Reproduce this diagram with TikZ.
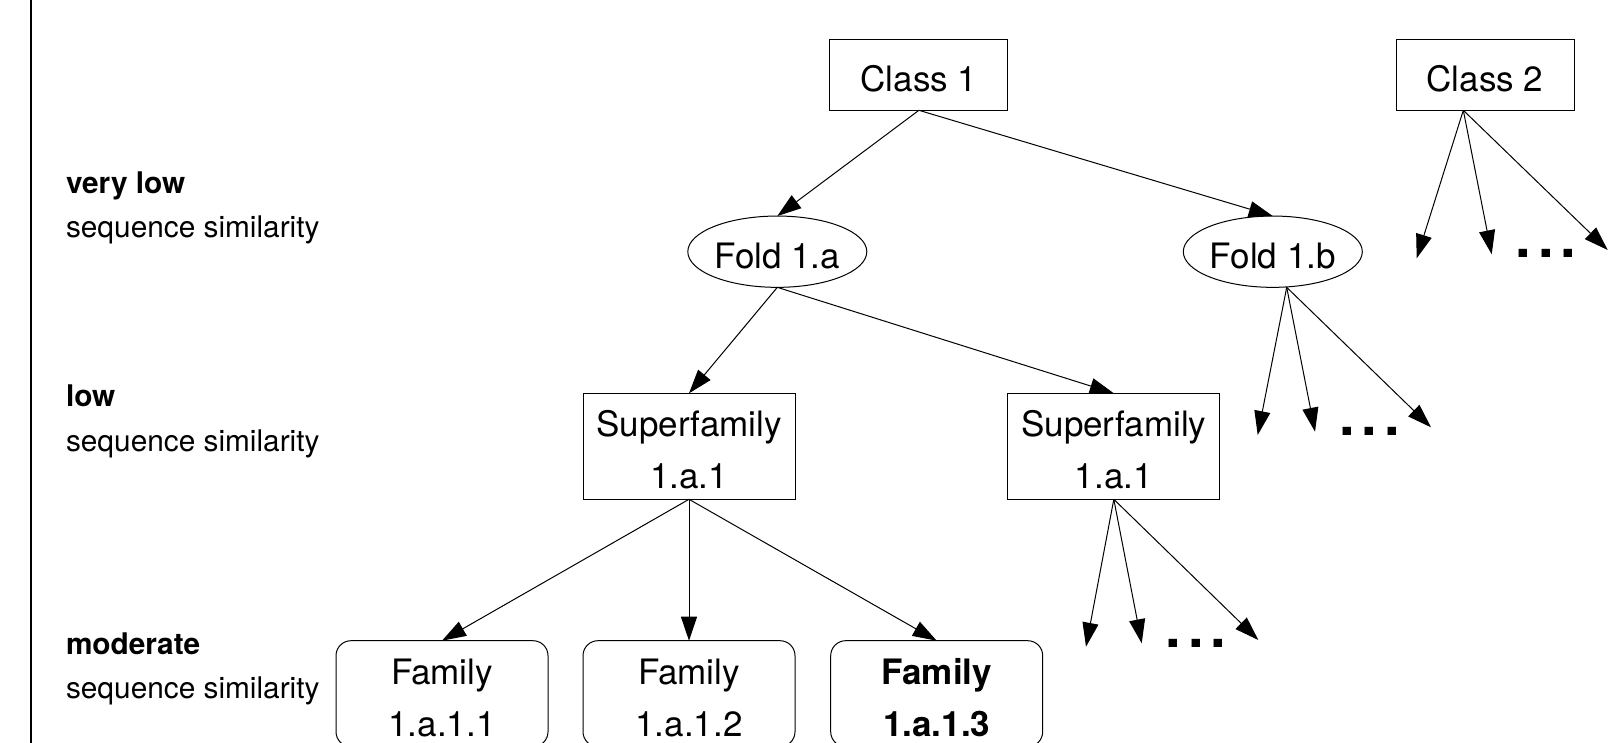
\documentclass[tikz,border=0pt]{standalone}
\usepackage{fontspec}
\setmainfont{TeX Gyre Heros}
\usetikzlibrary{arrows.meta,shapes.geometric}
\begin{document}
\begin{tikzpicture}[x=1pt,y=-1pt,
  every node/.style={inner sep=0pt, outer sep=0pt},
  lbl/.style={font=\fontsize{35}{52}\selectfont, align=center, text height=34pt, text depth=0pt},
  classbox/.style={lbl, draw, line width=1pt, minimum width=178pt, minimum height=71pt},
  foldell/.style={lbl, draw, ellipse, line width=1pt, minimum width=179pt, minimum height=71.3pt},
  sfbox/.style={lbl, text height=86pt, text depth=1.4pt, draw, line width=1pt, minimum width=212pt, minimum height=106pt},
  fambox/.style={sfbox, rounded corners=15pt},
  level/.style={font=\fontsize{29.8}{44.5}\selectfont, align=left, anchor=base west},
  edge/.style={-{Triangle[length=24pt,width=16pt]}, line width=1pt},
  more/.style={font=\fontsize{56}{56}\selectfont\bfseries, anchor=base west}
]
\useasboundingbox (0,0) rectangle (1621,743);
\clip (0,0) rectangle (1621,743);

% left rule and similarity levels (anchored at the baseline of the second line)
\draw[line width=2pt] (31,0) -- (31,743);
\node[level] (lvl1) at (66,237.9) {\textbf{very low}\\sequence similarity};
\node[level] (lvl2) at (66,451.1) {\textbf{low}\\sequence similarity};
\node[level] (lvl3) at (66,698.5) {\textbf{moderate}\\sequence similarity};

% classes
\node[classbox] (c1) at (918.9,74.8) {Class 1};
\node[classbox] (c2) at (1485,74.8)  {Class 2};

% folds
\node[foldell] (f1a) at (777.3,251.7)  {Fold 1.a};
\node[foldell] (f1b) at (1272.8,251.7) {Fold 1.b};

% superfamilies
\node[sfbox] (sf1) at (689,446.3)    {Superfamily\\1.a.1};
\node[sfbox] (sf2) at (1113.8,446.3) {Superfamily\\1.a.1};

% families
\node[fambox] (fam1) at (442,693.7)   {Family\\1.a.1.1};
\node[fambox] (fam2) at (689,693.7)   {Family\\1.a.1.2};
\node[fambox] (fam3) at (936.7,693.7) {\bfseries Family\\\bfseries 1.a.1.3};

% tree edges
\draw[edge] (c1.south) -- (f1a.north);
\draw[edge] (c1.south) -- (f1b.north);
\draw[edge] (f1a.south) -- (sf1.north);
\draw[edge] (f1a.south) -- (sf2.north);
\draw[edge] (sf1.south) -- (fam1.north);
\draw[edge] (sf1.south) -- (fam2.north);
\draw[edge] (sf1.south) -- (fam3.north);

% open-ended branches
\coordinate (c2o) at ([xshift=-21.7pt]c2.south);
\coordinate (c2a) at (1416.7,258.3);
\coordinate (c2b) at (1491.7,254.3);
\coordinate (c2c) at (1607.7,250);
\draw[edge] (c2o) -- (c2a);
\draw[edge] (c2o) -- (c2b);
\draw[edge] (c2o) -- (c2c);
\node[more] (c2m) at (1515.5,258) {.\kern7pt.\kern7pt.};

\coordinate (f1bo) at ([xshift=13.9pt]f1b.south);
\coordinate (f1ba) at (1257.7,435);
\coordinate (f1bb) at (1315,431.7);
\coordinate (f1bc) at (1431,427.3);
\draw[edge] (f1bo) -- (f1ba);
\draw[edge] (f1bo) -- (f1bb);
\draw[edge] (f1bo) -- (f1bc);
\node[more] (f1bm) at (1339.2,435) {.\kern7pt.\kern7pt.};

\coordinate (sf2o) at (sf2.south);
\coordinate (sf2a) at (1086,646.7);
\coordinate (sf2b) at (1141.7,643.3);
\coordinate (sf2c) at (1258.3,640);
\draw[edge] (sf2o) -- (sf2a);
\draw[edge] (sf2o) -- (sf2b);
\draw[edge] (sf2o) -- (sf2c);
\node[more] (sf2m) at (1165.8,647) {.\kern7pt.\kern7pt.};
\end{tikzpicture}
\end{document}
